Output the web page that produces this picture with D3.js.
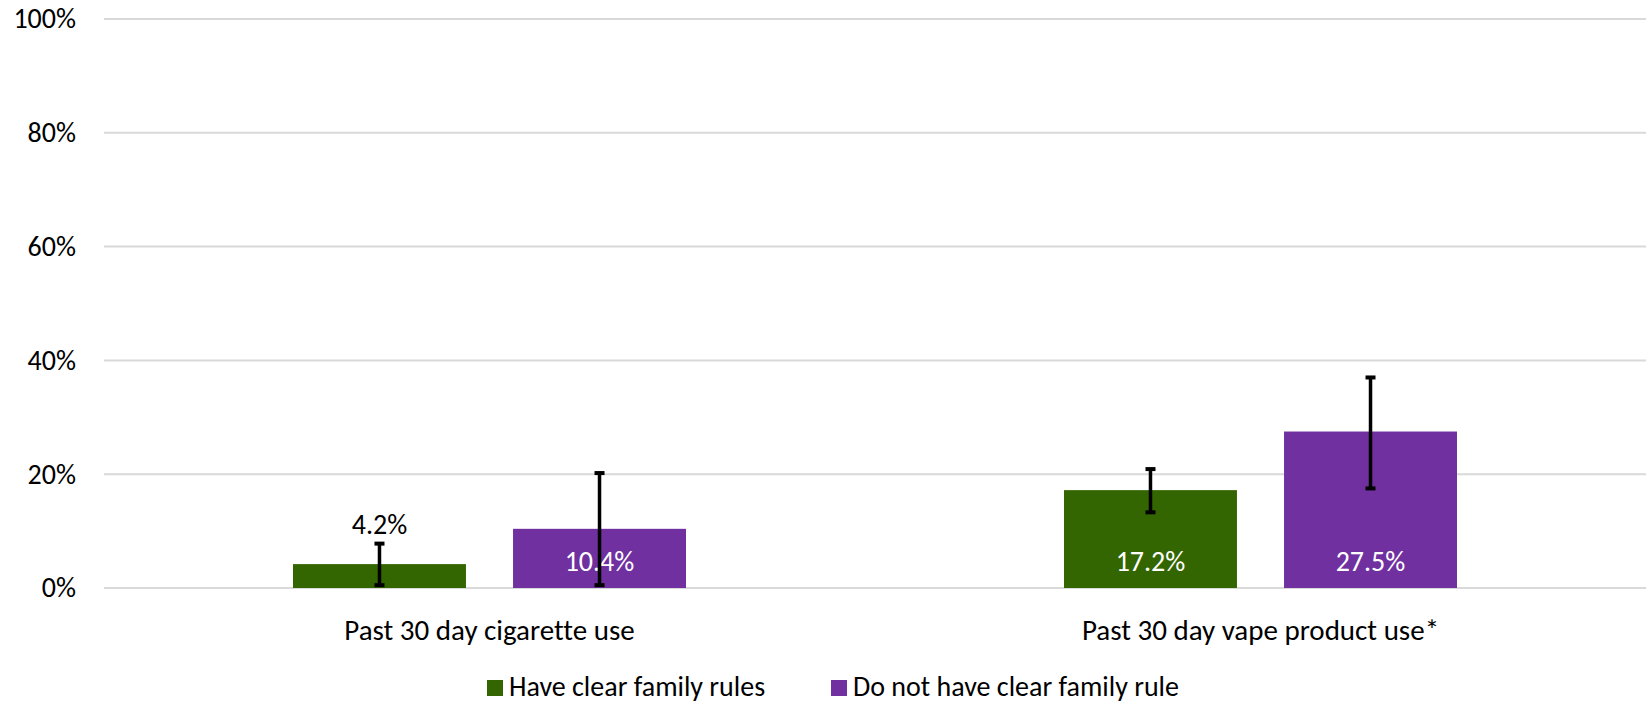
<!DOCTYPE html>
<html>
<head>
<meta charset="utf-8">
<script src="https://cdn.jsdelivr.net/npm/d3@7"></script>
<style>
  html, body { margin: 0; padding: 0; background: #fff; }
  svg { display: block; font-family: Carlito, Calibri, Lato, sans-serif; font-variant-ligatures: none; }
  svg text { font-family: Carlito, Calibri, Lato, sans-serif; font-variant-ligatures: none; }
</style>
</head>
<body>
<svg id="chart" width="1650" height="705"></svg>
<script>
const categories = ["Past 30 day cigarette use", "Past 30 day vape product use*"];
const seriesNames = ["Have clear family rules", "Do not have clear family rule"];
const seriesColors = ["#336600", "#7030A0"];
const haveRules = [0.042, 0.172];
const noRules = [0.104, 0.275];
const haveRulesLow = [0.005, 0.133];
const haveRulesHigh = [0.078, 0.209];
const noRulesLow = [0.005, 0.175];
const noRulesHigh = [0.202, 0.370];
const labelPosition = [["above", "insideBase"], ["insideBase", "insideBase"]]; // [category][series]
const yTicks = [0, 0.2, 0.4, 0.6, 0.8, 1.0];

const values = [haveRules, noRules];
const lows = [haveRulesLow, noRulesLow];
const highs = [haveRulesHigh, noRulesHigh];

const data = [];
categories.forEach((c, ci) => {
  seriesNames.forEach((s, si) => {
    data.push({cat: c, ci, series: s, si, v: values[si][ci], lo: lows[si][ci], hi: highs[si][ci], pos: labelPosition[ci][si]});
  });
});

const svg = d3.select("#chart");
const plot = {left: 104, right: 1646, top: 19, bottom: 588};

const y = d3.scaleLinear().domain([0, 1]).range([plot.bottom, plot.top]);
const x0 = d3.scaleBand().domain(categories).range([plot.left, plot.right]).padding(0);
const x1 = d3.scaleBand().domain(seriesNames).range([0, x0.bandwidth()]).paddingInner(0.214).paddingOuter(0.859);

// y axis labels
const yAxis = d3.axisLeft(y).tickValues(yTicks).tickFormat(d3.format(".0%")).tickSize(0).tickPadding(28);
const gAxis = svg.append("g").attr("transform", `translate(${plot.left},0)`).call(yAxis);
gAxis.attr("font-family", null).attr("font-size", null);
gAxis.select(".domain").remove();
gAxis.selectAll("text").attr("font-size", 28).attr("fill", "#000");

// gridlines
svg.append("g").selectAll("line").data(yTicks).join("line")
  .attr("x1", plot.left).attr("x2", plot.right)
  .attr("y1", d => y(d)).attr("y2", d => y(d))
  .attr("stroke", "#d9d9d9").attr("stroke-width", 2);

// bars
const bars = svg.append("g");
bars.selectAll("rect").data(data).join("rect")
  .attr("x", d => x0(d.cat) + x1(d.series))
  .attr("y", d => y(d.v))
  .attr("width", x1.bandwidth())
  .attr("height", d => y(0) - y(d.v))
  .attr("fill", d => seriesColors[d.si]);

// data labels
svg.append("g").selectAll("text").data(data).join("text")
  .attr("x", d => x0(d.cat) + x1(d.series) + x1.bandwidth() / 2)
  .attr("y", d => d.pos === "above" ? y(d.v) - 30 : y(0) - 17)
  .attr("text-anchor", "middle")
  .attr("font-size", 28)
  .attr("fill", d => d.pos === "above" ? "#000" : "#fff")
  .text(d => d3.format(".1f")(d.v * 100) + "%");

// error bars
const eb = svg.append("g").selectAll("g").data(data).join("g");
const cx = d => x0(d.cat) + x1(d.series) + x1.bandwidth() / 2;
eb.append("line")
  .attr("x1", cx).attr("x2", cx)
  .attr("y1", d => y(d.lo)).attr("y2", d => y(d.hi))
  .attr("stroke", "#000").attr("stroke-width", 3.5);
eb.append("rect")
  .attr("x", d => cx(d) - 5).attr("y", d => y(d.hi) - 2)
  .attr("width", 10).attr("height", 4).attr("fill", "#000");
eb.append("rect")
  .attr("x", d => cx(d) - 5).attr("y", d => y(d.lo) - 2)
  .attr("width", 10).attr("height", 4).attr("fill", "#000");

// category labels
svg.append("g").selectAll("text").data(categories).join("text")
  .attr("x", d => x0(d) + x0.bandwidth() / 2)
  .attr("y", 640)
  .attr("text-anchor", "middle")
  .attr("font-size", 29)
  .attr("fill", "#000")
  .text(d => d);

// legend
const legendX = [487, 831];
const leg = svg.append("g").selectAll("g").data(seriesNames).join("g")
  .attr("transform", (d, i) => `translate(${legendX[i]},680)`);
leg.append("rect").attr("width", 16).attr("height", 16).attr("fill", (d, i) => seriesColors[i]);
leg.append("text").attr("x", 22).attr("y", 16).attr("font-size", 28).attr("fill", "#000").text(d => d);
</script>
</body>
</html>
